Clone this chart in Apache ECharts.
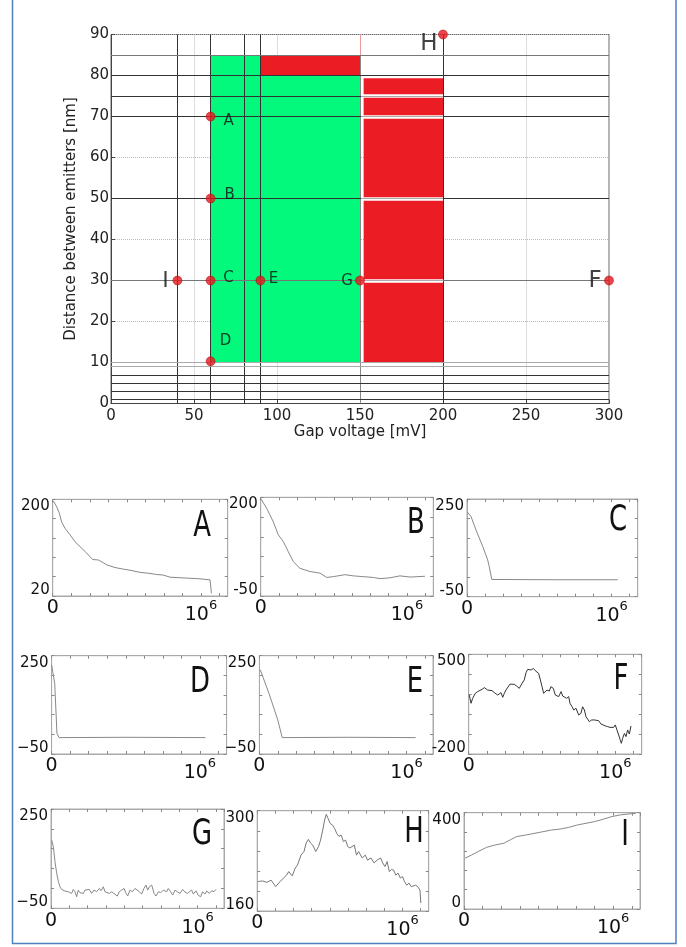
<!DOCTYPE html>
<html><head><meta charset="utf-8">
<script src="https://cdn.jsdelivr.net/npm/echarts@6/dist/echarts.min.js"></script>
<style>html,body{margin:0;padding:0;background:#fff}#c{width:686px;height:947px}</style>
</head><body><div id="c"></div>
<script>
// ---------------- main chart data ----------------
const xMin = 0, xMax = 300, xStep = 50;
const yMin = 0, yMax = 90, yStep = 10;
const xTitle = 'Gap voltage [mV]';
const yTitle = 'Distance between emitters [nm]';
const greenBlocks = [[60, 10, 150, 85]];              // [x0, y0, x1, y1]
const redBlocks = [[90, 80, 150, 85], [152.2, 10, 200, 79.3]];
const vLineX = [40, 60, 80, 90, 200];                 // full-height boundaries
const vLine150 = 150;
const hLineDarkY = [80, 75, 70, 50, 7, 5, 3, 1];
const hLineMidY = [85, 30];
const hLineLightY = [10, 9];
const redGapY = [75, 70, 50, 30];
const pointNames = ['A', 'B', 'C', 'D', 'E', 'F', 'G', 'H', 'I'];
const pointX = [60, 60, 60, 60, 90, 300, 150, 200, 40];
const pointY = [70, 50, 30, 10.3, 30, 30, 30, 90, 30];

// ---------------- small panels data ----------------
const panelNames = ['A', 'B', 'C', 'D', 'E', 'F', 'G', 'H', 'I'];
const panelYMin = [20, -50, -50, -50, -50, -200, -50, 160, 0];
const panelYMax = [200, 200, 250, 250, 250, 500, 250, 300, 400];
const panelMinLabels = ['20', '-50', '-50', '\u221250', '\u221250', '-200', '\u221250', '160', '0'];
const panelMaxLabels = ['200', '200', '250', '250', '250', '500', '250', '300', '400'];
const panelXMax = 1.18;   // in units of 10^6
const curveA = [[0.004,197],[0.027,186],[0.045,174],[0.060,158],[0.083,146],[0.117,134],[0.150,121],[0.184,112],[0.218,103],[0.252,93],[0.269,88],[0.308,87],[0.341,82],[0.364,78],[0.420,73],[0.476,70],[0.521,68],[0.589,64],[0.656,62],[0.701,60],[0.746,59],[0.791,55],[0.858,54],[0.926,53],[0.993,52],[1.061,50],[1.066,37],[1.070,25]];
const curveB = [[0,197],[0.041,172],[0.086,138],[0.120,105],[0.155,88],[0.189,62],[0.223,37],[0.269,20],[0.337,12],[0.405,8],[0.451,-3],[0.496,-1],[0.576,4],[0.633,1],[0.701,-1],[0.770,-3],[0.816,-6],[0.884,-4],[0.952,1],[1.021,-2],[1.123,0]];
const curveC = [[0,211],[0.028,196],[0.062,155],[0.109,104],[0.143,63],[0.154,42],[0.171,3],[0.6,2],[1.042,2]];
const curveD = [[0,222],[0.021,166],[0.036,13],[0.051,0],[0.5,1],[1.038,0]];
const curveE = [[0.006,207],[0.065,135],[0.125,54],[0.155,0],[0.6,1],[1.062,0]];
const curveF = [[0.004,214],[0.016,156],[0.027,191],[0.045,226],[0.061,238],[0.073,226],[0.091,254],[0.107,266],[0.118,273],[0.129,249],[0.141,238],[0.159,245],[0.175,231],[0.186,242],[0.198,214],[0.209,226],[0.220,231],[0.232,198],[0.243,226],[0.254,249],[0.266,261],[0.282,291],[0.295,301],[0.311,289],[0.327,277],[0.345,261],[0.364,296],[0.379,320],[0.391,371],[0.402,394],[0.414,408],[0.427,390],[0.441,401],[0.454,385],[0.466,394],[0.477,366],[0.489,320],[0.500,273],[0.511,226],[0.523,226],[0.534,249],[0.550,242],[0.561,273],[0.577,261],[0.591,214],[0.602,226],[0.614,203],[0.630,238],[0.641,207],[0.652,214],[0.668,191],[0.682,203],[0.691,156],[0.705,132],[0.716,109],[0.732,121],[0.750,74],[0.766,86],[0.777,132],[0.789,109],[0.800,62],[0.811,74],[0.823,27],[0.839,39],[0.857,39],[0.868,27],[0.886,34],[0.902,11],[0.914,15],[0.932,-3],[0.948,-8],[0.964,-13],[0.977,-3],[0.989,-13],[1.000,4],[1.011,-31],[1.023,-67],[1.032,-97],[1.041,-125],[1.050,-90],[1.062,-55],[1.073,-78],[1.084,-31],[1.096,-60],[1.107,-3]];
const curveG = [[0.005,156],[0.016,136],[0.027,91],[0.039,56],[0.050,31],[0.061,15],[0.073,7],[0.089,3],[0.102,7],[0.118,0],[0.130,5],[0.141,-5],[0.152,7],[0.164,0],[0.175,-15],[0.186,5],[0.198,-3],[0.209,3],[0.221,-5],[0.232,5],[0.243,-1],[0.261,7],[0.277,-5],[0.293,5],[0.311,0],[0.330,10],[0.341,3],[0.357,15],[0.368,0],[0.380,5],[0.398,-5],[0.414,0],[0.425,5],[0.437,-8],[0.452,-13],[0.466,0],[0.482,5],[0.498,10],[0.512,-5],[0.523,-13],[0.539,5],[0.555,0],[0.573,10],[0.584,5],[0.603,0],[0.618,-7],[0.634,10],[0.648,20],[0.659,5],[0.671,15],[0.687,20],[0.703,-5],[0.716,-13],[0.732,0],[0.748,-3],[0.766,5],[0.778,7],[0.789,0],[0.800,10],[0.816,0],[0.830,-10],[0.846,5],[0.862,0],[0.880,-5],[0.898,7],[0.914,-1],[0.930,-5],[0.944,0],[0.959,5],[0.971,-7],[0.989,3],[1.005,-11],[1.021,-15],[1.034,0],[1.050,-7],[1.062,2],[1.080,-5],[1.096,3],[1.112,0],[1.125,7]];
const curveH = [[0.006,201],[0.036,202],[0.066,200],[0.096,203],[0.127,194],[0.157,201],[0.181,206],[0.202,210],[0.217,215],[0.241,209],[0.262,220],[0.277,224],[0.301,238],[0.322,243],[0.337,255],[0.352,260],[0.367,255],[0.382,252],[0.403,243],[0.422,250],[0.436,259],[0.451,273],[0.464,287],[0.475,295],[0.488,289],[0.503,282],[0.518,280],[0.533,275],[0.548,268],[0.563,264],[0.578,266],[0.593,257],[0.608,259],[0.623,250],[0.638,248],[0.668,252],[0.683,238],[0.698,243],[0.722,234],[0.744,238],[0.759,231],[0.783,234],[0.804,227],[0.825,231],[0.849,234],[0.864,227],[0.879,222],[0.894,229],[0.909,215],[0.924,218],[0.939,217],[0.954,210],[0.969,213],[0.985,206],[1.000,208],[1.014,201],[1.029,196],[1.044,199],[1.060,194],[1.090,196],[1.105,194],[1.120,189],[1.126,171]];
const curveI = [[0.006,211],[0.050,224],[0.093,238],[0.151,256],[0.209,266],[0.267,273],[0.310,287],[0.354,301],[0.412,307],[0.470,314],[0.528,321],[0.586,328],[0.644,332],[0.702,339],[0.760,349],[0.818,356],[0.876,363],[0.934,373],[0.992,384],[1.050,391],[1.108,395],[1.151,397]];
const panelCurves = [curveA, curveB, curveC, curveD, curveE, curveF, curveG, curveH, curveI];

// ---------------- styles / layout ----------------
const FONT = 'DejaVu Sans';
const panelBoxes = [
  [52.7, 499.3, 175, 96.7], [260.7, 497.3, 172.6, 98.7], [467, 499, 170.7, 97.7],
  [51.6, 655.7, 175, 98.3], [259.4, 655.7, 173.6, 98.3], [468.7, 654.3, 173, 99.7],
  [51, 809, 173, 99.3], [257.2, 810.7, 171.5, 100.3], [464, 812.7, 176, 96.3]
];
const letterPos = [[202,527],[416,524],[618,521],[200,683],[415,683],[621,680],[202,835],[414,833],[625,836]];
const curveColors = ['#888','#888','#888','#888','#888','#333','#888','#777','#888'];
const pointLabelStyle = {
  A:[18,5,15], B:[19,-3,15], C:[18,-2,15], D:[15,-20,15], E:[13,-1,15],
  F:[-14,1,23], G:[-13,1,15], H:[-14,10,23], I:[-12,1,22]
};

const grids = [{left:111, top:34.5, width:498, height:369, show:true, borderColor:'#666', borderWidth:1}];
const xAxes = [{
  gridIndex:0, type:'value', min:xMin, max:xMax, interval:xStep,
  name:xTitle, nameLocation:'middle', nameGap:16,
  nameTextStyle:{fontFamily:FONT, fontSize:15, color:'#222'},
  axisLine:{show:true, onZero:false, lineStyle:{color:'#444'}},
  axisTick:{show:true, inside:true, length:4, lineStyle:{color:'#444'}},
  axisLabel:{fontFamily:FONT, fontSize:15, color:'#222', margin:5},
  splitLine:{show:true, lineStyle:{type:'dotted', color:'#bbb'}}
}];
const yAxes = [{
  gridIndex:0, type:'value', min:yMin, max:yMax, interval:yStep,
  name:yTitle, nameLocation:'middle', nameGap:22,
  nameTextStyle:{fontFamily:FONT, fontSize:15, color:'#222'},
  axisLine:{show:true, onZero:false, lineStyle:{color:'#444'}},
  axisTick:{show:true, inside:true, length:4, lineStyle:{color:'#444'}},
  axisLabel:{fontFamily:FONT, fontSize:15, color:'#222', margin:2},
  splitLine:{show:true, lineStyle:{type:'dotted', color:'#bbb'}}
}];

function seg(x0, y0, x1, y1) { return {coords:[[x0, y0], [x1, y1]]}; }
function linesSeries(data, color, width, z) {
  return {type:'lines', coordinateSystem:'cartesian2d', xAxisIndex:0, yAxisIndex:0, z:z, silent:true,
    polyline:false, lineStyle:{color:color, width:width, opacity:1}, data:data};
}
function rectSeries(blocks, color, z) {
  return {type:'custom', xAxisIndex:0, yAxisIndex:0, z:z, silent:true,
    encode:{x:[0,2], y:[1,3]}, data:blocks,
    renderItem:function(params, api){
      const p0 = api.coord([api.value(0), api.value(1)]);
      const p1 = api.coord([api.value(2), api.value(3)]);
      return {type:'rect', shape:{x:p0[0], y:p1[1], width:p1[0]-p0[0], height:p0[1]-p1[1]}, style:{fill:color}};
    }};
}

const series = [
  rectSeries(greenBlocks, '#02f97c', 1),
  rectSeries(redBlocks, '#ec1c24', 1),
  linesSeries(vLineX.map(x => seg(x, yMin, x, yMax)), '#333', 1, 2),
  linesSeries([seg(vLine150, yMin, vLine150, 85)], '#888', 1, 2),
  linesSeries([seg(vLine150, 85, vLine150, yMax)], '#e99', 1, 2),
  linesSeries(hLineDarkY.map(y => seg(xMin, y, xMax, y)), '#333', 1, 2),
  linesSeries(hLineMidY.map(y => seg(xMin, y, xMax, y)), '#777', 1, 2),
  linesSeries(hLineLightY.map(y => seg(xMin, y, xMax, y)), '#aaa', 1, 2),
  linesSeries(redGapY.map(y => seg(150.6, y, 200, y)), '#ffffff', 3.5, 3),
  linesSeries(redGapY.map(y => seg(150.6, y, 200, y)), '#aaa', 1, 4),
  {
    type:'scatter', xAxisIndex:0, yAxisIndex:0, z:10, clip:false, symbolSize:9,
    itemStyle:{color:'#e5161e', borderColor:'#a00', borderWidth:0.6},
    data: pointNames.map((n, i) => {
      const s = pointLabelStyle[n];
      return {name:n, value:[pointX[i], pointY[i]],
        label:{show:true, formatter:n, position:'inside', offset:[s[0], s[1]],
          fontFamily:FONT, fontSize:s[2], color:'#111', align:'center', verticalAlign:'middle'}};
    })
  }
];

const graphics = [];
panelNames.forEach((name, k) => {
  const b = panelBoxes[k];
  const g = grids.length;
  grids.push({left:b[0], top:b[1], width:b[2], height:b[3], show:true, borderColor:'#aaa', borderWidth:1});
  const xi = xAxes.length;
  const tickStyle = {show:true, inside:true, length:3, lineStyle:{color:'#888', width:1}};
  const boxLine = {show:true, onZero:false, lineStyle:{color:'#aaa', width:1}};
  xAxes.push({
    gridIndex:g, type:'value', min:0, max:panelXMax, interval:0.125, position:'bottom',
    axisLine:boxLine, splitLine:{show:false}, axisTick:tickStyle,
    axisLabel:{show:true, margin:3, showMinLabel:true, showMaxLabel:false,
      formatter: v => v === 0 ? '{z|0}' : (Math.abs(v - 1) < 1e-9 ? '{b|10}{s|6}' : ''),
      rich:{
        z:{fontFamily:FONT, fontSize:19, color:'#111', lineHeight:22, verticalAlign:'top'},
        b:{fontFamily:FONT, fontSize:19, color:'#111', lineHeight:26, verticalAlign:'bottom'},
        s:{fontFamily:FONT, fontSize:13, color:'#111', lineHeight:26, verticalAlign:'top'}
      }}
  });
  xAxes.push({
    gridIndex:g, type:'value', min:0, max:panelXMax, interval:0.125, position:'top',
    axisLine:boxLine, splitLine:{show:false}, axisTick:tickStyle, axisLabel:{show:false}
  });
  const yi = yAxes.length;
  const mn = panelYMin[k], mx = panelYMax[k];
  yAxes.push({
    gridIndex:g, type:'value', min:mn, max:mx, position:'left',
    axisLine:{show:false, onZero:false}, splitLine:{show:false}, axisTick:{show:false},
    axisLabel:{show:true, margin:3, showMinLabel:true, showMaxLabel:true,
      formatter: v => Math.abs(v - mx) < 1e-9 ? '{t|' + panelMaxLabels[k] + '}' :
                      (Math.abs(v - mn) < 1e-9 ? '{m|' + panelMinLabels[k] + '}' : ''),
      rich:{
        t:{fontFamily:FONT, fontSize:15, color:'#111', padding:[14,0,0,0]},
        m:{fontFamily:FONT, fontSize:15, color:'#111', padding:[0,0,12,0]}
      }}
  });
  yAxes.push({gridIndex:g, type:'value', min:0, max:5, interval:1, position:'left',
    axisLine:boxLine, splitLine:{show:false}, axisTick:tickStyle, axisLabel:{show:false}});
  yAxes.push({gridIndex:g, type:'value', min:0, max:5, interval:1, position:'right',
    axisLine:boxLine, splitLine:{show:false}, axisTick:tickStyle, axisLabel:{show:false}});
  series.push({type:'line', xAxisIndex:xi, yAxisIndex:yi, data:panelCurves[k], showSymbol:false,
    symbol:'none', silent:true, lineStyle:{color:curveColors[k], width:1}});
  const lp = letterPos[k];
  graphics.push({type:'text', x:lp[0], y:lp[1], z:20, scaleX:0.72, scaleY:1,
    style:{text:name, fontFamily:FONT, fontSize:36, fill:'#111', align:'center', verticalAlign:'middle'}});
});

graphics.push({type:'polyline', z:30, shape:{points:[[12.5,-2],[12.5,943.5],[676,943.5],[676,-2]]},
  style:{stroke:'#4f81bd', lineWidth:1.5, fill:null}});

const chart = echarts.init(document.getElementById('c'), null, {renderer:'canvas'});
chart.setOption({
  animation:false, backgroundColor:'#fff',
  grid:grids, xAxis:xAxes, yAxis:yAxes, series:series, graphic:graphics
});
</script></body></html>
